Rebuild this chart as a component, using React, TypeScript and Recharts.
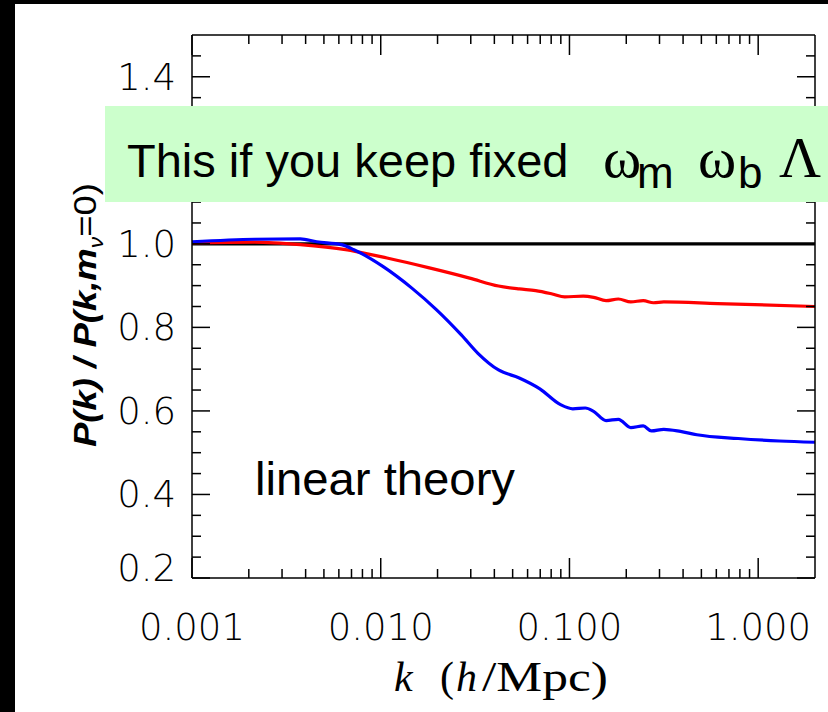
import { LineChart, Line, XAxis, YAxis } from "recharts";

// massive-neutrino / massless power spectrum ratio, linear theory
const K_RED = [0.001, 0.00215, 0.00375, 0.00652, 0.0108, 0.01787, 0.02958, 0.04208, 0.0542, 0.0662, 0.0811, 0.0944, 0.1183, 0.1343, 0.1563, 0.1816, 0.2113, 0.246, 0.2787, 0.3162, 0.609, 2.0];
const P_RED = [1.002, 1.004, 0.998, 0.986, 0.966, 0.943, 0.918, 0.899, 0.892, 0.888, 0.88, 0.873, 0.875, 0.872, 0.864, 0.868, 0.861, 0.864, 0.859, 0.861, 0.857, 0.85];

const K_BLUE = [0.001, 0.00215, 0.00375, 0.00458, 0.0062, 0.00721, 0.01026, 0.01462, 0.01977, 0.02673, 0.03273, 0.04208, 0.0542, 0.0697, 0.0897, 0.1042, 0.1213, 0.1343, 0.1563, 0.1816, 0.2113, 0.246, 0.2717, 0.3162, 0.387, 0.473, 0.783, 1.297, 2.0];
const P_BLUE = [1.005, 1.011, 1.012, 1.005, 0.998, 0.986, 0.946, 0.894, 0.842, 0.782, 0.738, 0.698, 0.679, 0.653, 0.615, 0.605, 0.607, 0.599, 0.577, 0.58, 0.56, 0.564, 0.552, 0.556, 0.551, 0.543, 0.534, 0.528, 0.525];

const K_UNITY = [0.001, 2.0];
const P_UNITY = [1.0, 1.0];

const X_MAJOR = [0.001, 0.01, 0.1, 1];
const X_LABELS = ["0.001", "0.010", "0.100", "1.000"];
const X_MINOR_MULT = [2, 3, 4, 5, 6, 7, 8, 9];

// 1.2 sits under the annotation box, so it carries no label
const Y_MAJOR = [0.2, 0.4, 0.6, 0.8, 1.0, 1.2, 1.4];
const Y_LABELS = ["0.2", "0.4", "0.6", "0.8", "1.0", "", "1.4"];
const Y_STEP = 0.05;

const toRows = (ks: number[], ps: number[]) => ks.map((k, i) => ({ k, p: ps[i] }));
const red = toRows(K_RED, P_RED);
const blue = toRows(K_BLUE, P_BLUE);
const unity = toRows(K_UNITY, P_UNITY);

const xTicks = X_MAJOR.flatMap((d, i) =>
  i === X_MAJOR.length - 1 ? [d] : [d, ...X_MINOR_MULT.map((m) => d * m)]
);
const yTicks = Array.from({ length: 26 }, (_, i) => +(0.2 + Y_STEP * i).toFixed(2));

const TICK_FONT = '"DejaVu Sans", "Liberation Sans", sans-serif';
const FRAME = { stroke: "#000", strokeWidth: 1.5 };

const majorIndex = (list: number[], v: number) => list.findIndex((m) => Math.abs(m - v) < 1e-9);

function LeftTick(props: any) {
  const { x, y, payload } = props;
  const i = majorIndex(Y_MAJOR, payload.value);
  const len = i >= 0 ? 18 : 9;
  // bottom label sits a little above its tick
  const shift = payload.value === 0.2 ? -10 : 0;
  return (
    <g>
      <line x1={x} x2={x + len} y1={y} y2={y} {...FRAME} />
      {i >= 0 && Y_LABELS[i] && (
        <text x={x - 16} y={y + shift} dy={13} textAnchor="end" fontSize={37} fontFamily={TICK_FONT} fontWeight={200} fill="#000">
          {Y_LABELS[i]}
        </text>
      )}
    </g>
  );
}

function RightTick(props: any) {
  const { x, y, payload } = props;
  const len = majorIndex(Y_MAJOR, payload.value) >= 0 ? 18 : 9;
  return <line x1={x} x2={x - len} y1={y} y2={y} {...FRAME} />;
}

function BottomTick(props: any) {
  const { x, y, payload } = props;
  const i = majorIndex(X_MAJOR, payload.value);
  const len = i >= 0 ? 20 : 9;
  return (
    <g>
      <line x1={x} x2={x} y1={y} y2={y - len} {...FRAME} />
      {i >= 0 && (
        <text x={x} y={y + 62} textAnchor="middle" fontSize={37} fontFamily={TICK_FONT} fontWeight={200} fill="#000">
          {X_LABELS[i]}
        </text>
      )}
    </g>
  );
}

function TopTick(props: any) {
  const { x, y, payload } = props;
  const len = majorIndex(X_MAJOR, payload.value) >= 0 ? 20 : 9;
  return <line x1={x} x2={x} y1={y} y2={y + len} {...FRAME} />;
}

export default function App() {
  return (
    <div style={{ position: "absolute", left: 0, top: 0, width: 828, height: 712, background: "#000", overflow: "hidden" }}>
      <div style={{ position: "absolute", left: 15, top: 4, right: 0, bottom: 0, background: "#fff" }} />
      <div style={{ position: "absolute", left: 0, top: 0 }}>
        <LineChart width={828} height={712} margin={{ top: 34, right: 12, bottom: 0, left: 0 }}>
          <XAxis
            xAxisId="b"
            dataKey="k"
            type="number"
            scale="log"
            domain={[0.001, 2]}
            allowDataOverflow
            ticks={xTicks}
            interval={0}
            height={134}
            tickSize={0}
            tickMargin={0}
            tickLine={false}
            axisLine={FRAME}
            tick={<BottomTick />}
          />
          <XAxis
            xAxisId="t"
            orientation="top"
            dataKey="k"
            type="number"
            scale="log"
            domain={[0.001, 2]}
            allowDataOverflow
            ticks={xTicks}
            interval={0}
            height={1}
            tickSize={0}
            tickMargin={0}
            tickLine={false}
            axisLine={FRAME}
            tick={<TopTick />}
          />
          <YAxis
            yAxisId="l"
            type="number"
            domain={[0.2, 1.5]}
            allowDataOverflow
            ticks={yTicks}
            interval={0}
            width={192}
            tickSize={0}
            tickMargin={0}
            tickLine={false}
            axisLine={FRAME}
            tick={<LeftTick />}
          />
          <YAxis
            yAxisId="r"
            orientation="right"
            type="number"
            domain={[0.2, 1.5]}
            allowDataOverflow
            ticks={yTicks}
            interval={0}
            width={1}
            tickSize={0}
            tickMargin={0}
            tickLine={false}
            axisLine={FRAME}
            tick={<RightTick />}
          />
          <Line xAxisId="t" yAxisId="r" data={unity} dataKey="p" stroke="#000" strokeWidth={3.2} dot={false} isAnimationActive={false} />
          <Line xAxisId="b" yAxisId="l" data={red} dataKey="p" type="monotone" stroke="#ff0000" strokeWidth={3.2} dot={false} isAnimationActive={false} />
          <Line xAxisId="b" yAxisId="l" data={blue} dataKey="p" type="monotone" stroke="#0000ff" strokeWidth={3.2} dot={false} isAnimationActive={false} />
        </LineChart>
      </div>
      <svg width={828} height={712} style={{ position: "absolute", left: 0, top: 0, pointerEvents: "none" }}>
        <rect x={105} y={106} width={723} height={96} fill="#ccffcc" />
        <text x={127} y={177} fontSize={47} fontFamily='"Liberation Sans", Arial, sans-serif' fill="#000">
          This if you keep fixed
        </text>
        <g fontFamily='"Liberation Serif", "Times New Roman", serif' fontSize={58} fill="#000">
          <text x={603} y={177}>ω</text>
          <text x={698} y={177}>ω</text>
          <text x={779} y={177}>Λ</text>
        </g>
        <g fontFamily='"Liberation Sans", Arial, sans-serif' fontSize={44} fill="#000">
          <text x={637} y={188}>m</text>
          <text x={738} y={188}>b</text>
        </g>
        <text x={255} y={495} fontSize={46} textLength={260} lengthAdjust="spacingAndGlyphs" fontFamily='"Liberation Sans", Arial, sans-serif' fill="#000">
          linear theory
        </text>
        <g fontFamily='"Liberation Serif", "Times New Roman", serif' fontSize={42} fill="#000">
          <text x={394} y={691} fontStyle="italic">k</text>
          <text x={440} y={691}>(</text>
          <text x={456} y={691} fontStyle="italic">h</text>
          <text x={482} y={691} textLength={126} lengthAdjust="spacingAndGlyphs">/Mpc)</text>
        </g>
        <text
          transform="rotate(-90)"
          x={-315}
          y={96}
          textAnchor="middle"
          textLength={264}
          lengthAdjust="spacingAndGlyphs"
          fontFamily='"Liberation Sans", Arial, sans-serif'
          fontSize={32}
          fill="#000"
        >
          <tspan fontWeight="bold" fontStyle="italic">P(k) / P(k,m</tspan>
          <tspan fontSize={20} dy={7} fontStyle="italic">ν</tspan>
          <tspan dy={-7}>=0)</tspan>
        </text>
      </svg>
    </div>
  );
}
